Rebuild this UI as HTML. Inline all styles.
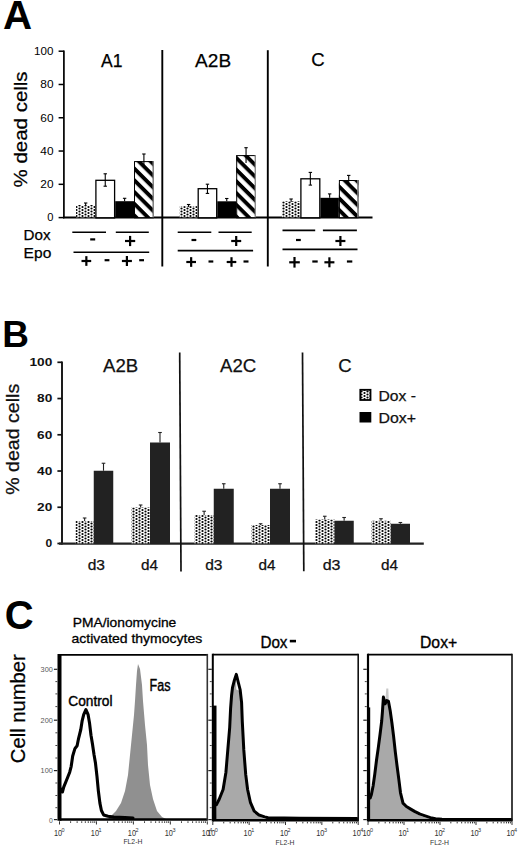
<!DOCTYPE html><html><head><meta charset="utf-8"><style>html,body{margin:0;padding:0;background:#fff;width:520px;height:849px;overflow:hidden}text{font-family:"Liberation Sans",sans-serif}</style></head><body><svg width="520" height="849" viewBox="0 0 520 849" style='display:block;font-family:"Liberation Sans", sans-serif'>
<defs>
<pattern id="dots" width="6" height="3" patternUnits="userSpaceOnUse">
<rect width="6" height="3" fill="#fff"/>
<circle cx="1.5" cy="1.5" r="1.1" fill="#000"/>
<circle cx="4.5" cy="0" r="1.1" fill="#000"/>
<circle cx="4.5" cy="3" r="1.1" fill="#000"/>
</pattern>
<pattern id="dotsB" width="6" height="3" patternUnits="userSpaceOnUse">
<rect width="6" height="3" fill="#fff"/>
<circle cx="1.5" cy="1.5" r="1.12" fill="#000"/>
<circle cx="4.5" cy="0" r="1.12" fill="#000"/>
<circle cx="4.5" cy="3" r="1.12" fill="#000"/>
</pattern>
<pattern id="hA1" width="8.3" height="8.3" patternUnits="userSpaceOnUse" patternTransform="rotate(45) translate(0,-2.62)">
<rect width="8.3" height="8.3" fill="#fff"/>
<rect x="0" y="0" width="8.3" height="3.9" fill="#000"/>
</pattern>
<pattern id="hA2B" width="8.3" height="8.3" patternUnits="userSpaceOnUse" patternTransform="rotate(45) translate(0,0.71)">
<rect width="8.3" height="8.3" fill="#fff"/>
<rect x="0" y="0" width="8.3" height="3.9" fill="#000"/>
</pattern>
<pattern id="hC" width="8.3" height="8.3" patternUnits="userSpaceOnUse" patternTransform="rotate(45) translate(0,-1.91)">
<rect width="8.3" height="8.3" fill="#fff"/>
<rect x="0" y="0" width="8.3" height="3.9" fill="#000"/>
</pattern>
</defs>
<rect width="520" height="849" fill="#fff"/>
<text x="3.0" y="29.3" font-size="40.3" font-weight="bold" text-anchor="start" fill="#000" >A</text>
<line x1="63.9" y1="50.6" x2="63.9" y2="218.3" stroke="#000" stroke-width="1.7"/>
<line x1="58.6" y1="51.2" x2="63.9" y2="51.2" stroke="#000" stroke-width="1.5"/>
<text x="53.5" y="55.0" font-size="10.5" font-weight="normal" text-anchor="end" fill="#000" textLength="19.4" lengthAdjust="spacingAndGlyphs" >100</text>
<line x1="58.6" y1="84.48" x2="63.9" y2="84.48" stroke="#000" stroke-width="1.5"/>
<text x="53.5" y="88.28" font-size="10.5" font-weight="normal" text-anchor="end" fill="#000" textLength="13.2" lengthAdjust="spacingAndGlyphs" >80</text>
<line x1="58.6" y1="117.76" x2="63.9" y2="117.76" stroke="#000" stroke-width="1.5"/>
<text x="53.5" y="121.56" font-size="10.5" font-weight="normal" text-anchor="end" fill="#000" textLength="13.2" lengthAdjust="spacingAndGlyphs" >60</text>
<line x1="58.6" y1="151.04000000000002" x2="63.9" y2="151.04000000000002" stroke="#000" stroke-width="1.5"/>
<text x="53.5" y="154.84000000000003" font-size="10.5" font-weight="normal" text-anchor="end" fill="#000" textLength="13.2" lengthAdjust="spacingAndGlyphs" >40</text>
<line x1="58.6" y1="184.32" x2="63.9" y2="184.32" stroke="#000" stroke-width="1.5"/>
<text x="53.5" y="188.12" font-size="10.5" font-weight="normal" text-anchor="end" fill="#000" textLength="13.2" lengthAdjust="spacingAndGlyphs" >20</text>
<line x1="58.6" y1="217.60000000000002" x2="63.9" y2="217.60000000000002" stroke="#000" stroke-width="1.5"/>
<text x="53.5" y="221.40000000000003" font-size="10.5" font-weight="normal" text-anchor="end" fill="#000" textLength="6.2" lengthAdjust="spacingAndGlyphs" >0</text>
<text transform="translate(27.3,129.4) rotate(-90)" font-size="19" text-anchor="middle" fill="#000" textLength="116" lengthAdjust="spacingAndGlyphs" stroke="#000" stroke-width="0.25">% dead cells</text>
<line x1="63" y1="217.5" x2="372.5" y2="217.5" stroke="#000" stroke-width="2"/>
<line x1="162.3" y1="50" x2="162.3" y2="266.5" stroke="#000" stroke-width="1.9"/>
<line x1="267.8" y1="50.2" x2="267.8" y2="266.5" stroke="#000" stroke-width="1.9"/>
<text x="111.8" y="66.6" font-size="18.5" font-weight="normal" text-anchor="middle" fill="#000" textLength="21.5" lengthAdjust="spacingAndGlyphs" stroke="#000" stroke-width="0.25">A1</text>
<text x="213.1" y="66.6" font-size="18.5" font-weight="normal" text-anchor="middle" fill="#000" textLength="36" lengthAdjust="spacingAndGlyphs" stroke="#000" stroke-width="0.25">A2B</text>
<text x="317.9" y="66.3" font-size="18.5" font-weight="normal" text-anchor="middle" fill="#000" stroke="#000" stroke-width="0.25">C</text>
<rect x="76" y="205" width="19.299999999999997" height="12.300000000000011" fill="url(#dots)"/>
<rect x="95.3" y="179.7" width="19.900000000000006" height="37.60000000000002" fill="#fff"/>
<rect x="95.89999999999999" y="180.29999999999998" width="18.700000000000006" height="37.60000000000002" fill="none" stroke="#000" stroke-width="1.3"/>
<rect x="115.2" y="201.2" width="18.799999999999997" height="16.100000000000023" fill="#000"/>
<rect x="134" y="161.1" width="19.80000000000001" height="56.20000000000002" fill="url(#hA1)"/>
<rect x="134.5" y="161.6" width="18.80000000000001" height="56.20000000000002" fill="none" stroke="#000" stroke-width="1"/>
<line x1="153.20000000000002" y1="161.1" x2="153.20000000000002" y2="217.3" stroke="#999" stroke-width="1.2"/>
<line x1="85.65" y1="203" x2="85.65" y2="206" stroke="#000" stroke-width="1.1"/>
<line x1="83.95" y1="203" x2="87.35000000000001" y2="203" stroke="#000" stroke-width="1.1"/>
<line x1="105.25" y1="173.8" x2="105.25" y2="186.2" stroke="#000" stroke-width="1.1"/>
<line x1="103.55" y1="173.8" x2="106.95" y2="173.8" stroke="#000" stroke-width="1.1"/>
<line x1="103.55" y1="186.2" x2="106.95" y2="186.2" stroke="#000" stroke-width="1.1"/>
<line x1="124.6" y1="198.3" x2="124.6" y2="201.2" stroke="#000" stroke-width="1.1"/>
<line x1="122.89999999999999" y1="198.3" x2="126.3" y2="198.3" stroke="#000" stroke-width="1.1"/>
<line x1="143.9" y1="154" x2="143.9" y2="166" stroke="#000" stroke-width="1.1"/>
<line x1="142.20000000000002" y1="154" x2="145.6" y2="154" stroke="#000" stroke-width="1.1"/>
<rect x="179.6" y="206.1" width="18.0" height="11.200000000000017" fill="url(#dots)"/>
<rect x="197.6" y="188.1" width="19.700000000000017" height="29.200000000000017" fill="#fff"/>
<rect x="198.2" y="188.7" width="18.500000000000018" height="29.200000000000017" fill="none" stroke="#000" stroke-width="1.3"/>
<rect x="217.3" y="201.3" width="18.899999999999977" height="16.0" fill="#000"/>
<rect x="236.2" y="155.1" width="19.700000000000017" height="62.20000000000002" fill="url(#hA2B)"/>
<rect x="236.7" y="155.6" width="18.700000000000017" height="62.20000000000002" fill="none" stroke="#000" stroke-width="1"/>
<line x1="255.3" y1="155.1" x2="255.3" y2="217.3" stroke="#999" stroke-width="1.2"/>
<line x1="188.6" y1="204.5" x2="188.6" y2="207" stroke="#000" stroke-width="1.1"/>
<line x1="186.9" y1="204.5" x2="190.29999999999998" y2="204.5" stroke="#000" stroke-width="1.1"/>
<line x1="207.45" y1="184.2" x2="207.45" y2="193.4" stroke="#000" stroke-width="1.1"/>
<line x1="205.75" y1="184.2" x2="209.14999999999998" y2="184.2" stroke="#000" stroke-width="1.1"/>
<line x1="205.75" y1="193.4" x2="209.14999999999998" y2="193.4" stroke="#000" stroke-width="1.1"/>
<line x1="226.75" y1="198.5" x2="226.75" y2="201.3" stroke="#000" stroke-width="1.1"/>
<line x1="225.05" y1="198.5" x2="228.45" y2="198.5" stroke="#000" stroke-width="1.1"/>
<line x1="246.05" y1="147.7" x2="246.05" y2="163" stroke="#000" stroke-width="1.1"/>
<line x1="244.35000000000002" y1="147.7" x2="247.75" y2="147.7" stroke="#000" stroke-width="1.1"/>
<rect x="281.9" y="201.3" width="18.400000000000034" height="16.0" fill="url(#dots)"/>
<rect x="300.3" y="178.2" width="20.099999999999966" height="39.10000000000002" fill="#fff"/>
<rect x="300.90000000000003" y="178.79999999999998" width="18.899999999999967" height="39.10000000000002" fill="none" stroke="#000" stroke-width="1.3"/>
<rect x="320.4" y="197.8" width="18.5" height="19.5" fill="#000"/>
<rect x="338.9" y="180" width="19.600000000000023" height="37.30000000000001" fill="url(#hC)"/>
<rect x="339.4" y="180.5" width="18.600000000000023" height="37.30000000000001" fill="none" stroke="#000" stroke-width="1"/>
<line x1="357.9" y1="180" x2="357.9" y2="217.3" stroke="#999" stroke-width="1.2"/>
<line x1="291.1" y1="199" x2="291.1" y2="202" stroke="#000" stroke-width="1.1"/>
<line x1="289.40000000000003" y1="199" x2="292.8" y2="199" stroke="#000" stroke-width="1.1"/>
<line x1="310.35" y1="172.4" x2="310.35" y2="185.1" stroke="#000" stroke-width="1.1"/>
<line x1="308.65000000000003" y1="172.4" x2="312.05" y2="172.4" stroke="#000" stroke-width="1.1"/>
<line x1="308.65000000000003" y1="185.1" x2="312.05" y2="185.1" stroke="#000" stroke-width="1.1"/>
<line x1="329.65" y1="193.9" x2="329.65" y2="197.8" stroke="#000" stroke-width="1.1"/>
<line x1="327.95" y1="193.9" x2="331.34999999999997" y2="193.9" stroke="#000" stroke-width="1.1"/>
<line x1="348.7" y1="175.4" x2="348.7" y2="185" stroke="#000" stroke-width="1.1"/>
<line x1="347.0" y1="175.4" x2="350.4" y2="175.4" stroke="#000" stroke-width="1.1"/>
<text x="23.6" y="240.3" font-size="15.2" font-weight="normal" text-anchor="start" fill="#000" textLength="27" lengthAdjust="spacingAndGlyphs" stroke="#000" stroke-width="0.25">Dox</text>
<text x="23.6" y="257.9" font-size="15.2" font-weight="normal" text-anchor="start" fill="#000" textLength="27.7" lengthAdjust="spacingAndGlyphs" stroke="#000" stroke-width="0.25">Epo</text>
<line x1="72.3" y1="232.3" x2="106" y2="232.3" stroke="#000" stroke-width="1.6"/>
<line x1="115.8" y1="232.3" x2="148.8" y2="232.3" stroke="#000" stroke-width="1.6"/>
<line x1="73.5" y1="252.3" x2="149.2" y2="252.3" stroke="#000" stroke-width="1.6"/>
<line x1="90.2" y1="239.4" x2="95.2" y2="239.4" stroke="#000" stroke-width="2.2"/>
<line x1="125" y1="241" x2="135.2" y2="241" stroke="#000" stroke-width="2.2"/>
<line x1="130.1" y1="235.9" x2="130.1" y2="246.1" stroke="#000" stroke-width="2.2"/>
<line x1="81.5" y1="261" x2="91.2" y2="261" stroke="#000" stroke-width="2.2"/>
<line x1="86.35" y1="256.15" x2="86.35" y2="265.85" stroke="#000" stroke-width="2.2"/>
<line x1="104.6" y1="260.2" x2="109.4" y2="260.2" stroke="#000" stroke-width="2.2"/>
<line x1="121.9" y1="261" x2="131.9" y2="261" stroke="#000" stroke-width="2.2"/>
<line x1="126.9" y1="256.0" x2="126.9" y2="266.0" stroke="#000" stroke-width="2.2"/>
<line x1="139.2" y1="260.2" x2="144" y2="260.2" stroke="#000" stroke-width="2.2"/>
<line x1="177.7" y1="232.3" x2="211.3" y2="232.3" stroke="#000" stroke-width="1.6"/>
<line x1="218.5" y1="232.3" x2="251.7" y2="232.3" stroke="#000" stroke-width="1.6"/>
<line x1="177.7" y1="250.6" x2="253.1" y2="250.6" stroke="#000" stroke-width="1.6"/>
<line x1="191.5" y1="240" x2="196.3" y2="240" stroke="#000" stroke-width="2.2"/>
<line x1="231.2" y1="241" x2="241.2" y2="241" stroke="#000" stroke-width="2.2"/>
<line x1="236.2" y1="236.0" x2="236.2" y2="246.0" stroke="#000" stroke-width="2.2"/>
<line x1="186.3" y1="262" x2="196" y2="262" stroke="#000" stroke-width="2.2"/>
<line x1="191.15" y1="257.15" x2="191.15" y2="266.85" stroke="#000" stroke-width="2.2"/>
<line x1="208.5" y1="261.5" x2="213.3" y2="261.5" stroke="#000" stroke-width="2.2"/>
<line x1="226.7" y1="262" x2="236.3" y2="262" stroke="#000" stroke-width="2.2"/>
<line x1="231.5" y1="257.2" x2="231.5" y2="266.8" stroke="#000" stroke-width="2.2"/>
<line x1="243.5" y1="261.5" x2="248.5" y2="261.5" stroke="#000" stroke-width="2.2"/>
<line x1="282.5" y1="230.4" x2="315.2" y2="230.4" stroke="#000" stroke-width="1.6"/>
<line x1="322.9" y1="230.4" x2="356.9" y2="230.4" stroke="#000" stroke-width="1.6"/>
<line x1="282.5" y1="249.4" x2="357.5" y2="249.4" stroke="#000" stroke-width="1.6"/>
<line x1="296" y1="240" x2="300.8" y2="240" stroke="#000" stroke-width="2.2"/>
<line x1="335.4" y1="241" x2="345.4" y2="241" stroke="#000" stroke-width="2.2"/>
<line x1="340.4" y1="236.0" x2="340.4" y2="246.0" stroke="#000" stroke-width="2.2"/>
<line x1="289.2" y1="262.3" x2="299.8" y2="262.3" stroke="#000" stroke-width="2.2"/>
<line x1="294.5" y1="257.0" x2="294.5" y2="267.6" stroke="#000" stroke-width="2.2"/>
<line x1="312.3" y1="261.5" x2="317.7" y2="261.5" stroke="#000" stroke-width="2.2"/>
<line x1="324.4" y1="262.3" x2="334.4" y2="262.3" stroke="#000" stroke-width="2.2"/>
<line x1="329.4" y1="257.3" x2="329.4" y2="267.3" stroke="#000" stroke-width="2.2"/>
<line x1="346.9" y1="261.5" x2="352.3" y2="261.5" stroke="#000" stroke-width="2.2"/>
<text x="2.3" y="347.3" font-size="37" font-weight="bold" text-anchor="start" fill="#000" >B</text>
<line x1="62" y1="361.5" x2="62" y2="544.5" stroke="#111" stroke-width="1.9"/>
<line x1="57.4" y1="362.3" x2="62" y2="362.3" stroke="#111" stroke-width="1.7"/>
<text x="52.3" y="366.2" font-size="10.8" font-weight="bold" text-anchor="end" fill="#111" textLength="22.8" lengthAdjust="spacingAndGlyphs" >100</text>
<line x1="57.4" y1="398.54" x2="62" y2="398.54" stroke="#111" stroke-width="1.7"/>
<text x="52.3" y="402.44" font-size="10.8" font-weight="bold" text-anchor="end" fill="#111" textLength="15.2" lengthAdjust="spacingAndGlyphs" >80</text>
<line x1="57.4" y1="434.78000000000003" x2="62" y2="434.78000000000003" stroke="#111" stroke-width="1.7"/>
<text x="52.3" y="438.68" font-size="10.8" font-weight="bold" text-anchor="end" fill="#111" textLength="15.2" lengthAdjust="spacingAndGlyphs" >60</text>
<line x1="57.4" y1="471.02" x2="62" y2="471.02" stroke="#111" stroke-width="1.7"/>
<text x="52.3" y="474.91999999999996" font-size="10.8" font-weight="bold" text-anchor="end" fill="#111" textLength="15.2" lengthAdjust="spacingAndGlyphs" >40</text>
<line x1="57.4" y1="507.26" x2="62" y2="507.26" stroke="#111" stroke-width="1.7"/>
<text x="52.3" y="511.15999999999997" font-size="10.8" font-weight="bold" text-anchor="end" fill="#111" textLength="15.2" lengthAdjust="spacingAndGlyphs" >20</text>
<line x1="57.4" y1="543.5" x2="62" y2="543.5" stroke="#111" stroke-width="1.7"/>
<text x="52.3" y="547.4" font-size="10.8" font-weight="bold" text-anchor="end" fill="#111" textLength="6.7" lengthAdjust="spacingAndGlyphs" >0</text>
<text transform="translate(18.6,439.3) rotate(-90)" font-size="18.8" text-anchor="middle" fill="#111" textLength="111" lengthAdjust="spacingAndGlyphs" stroke="#000" stroke-width="0.25">% dead cells</text>
<line x1="59" y1="543.6" x2="423.8" y2="543.6" stroke="#222" stroke-width="2.4"/>
<line x1="179.7" y1="352.4" x2="181" y2="571.5" stroke="#111" stroke-width="1.7"/>
<line x1="302.5" y1="352.4" x2="303.8" y2="571.3" stroke="#111" stroke-width="1.7"/>
<text x="120.6" y="372.2" font-size="18.5" font-weight="normal" text-anchor="middle" fill="#111" textLength="35.2" lengthAdjust="spacingAndGlyphs" stroke="#111" stroke-width="0.25">A2B</text>
<text x="238.1" y="372.4" font-size="18.5" font-weight="normal" text-anchor="middle" fill="#111" textLength="36.2" lengthAdjust="spacingAndGlyphs" stroke="#111" stroke-width="0.25">A2C</text>
<text x="345" y="372" font-size="18.5" font-weight="normal" text-anchor="middle" fill="#111" stroke="#111" stroke-width="0.25">C</text>
<rect x="75.5" y="521" width="18.25" height="22.399999999999977" fill="url(#dotsB)"/>
<line x1="84.625" y1="518" x2="84.625" y2="521" stroke="#222" stroke-width="1.1"/>
<line x1="82.825" y1="518" x2="86.425" y2="518" stroke="#222" stroke-width="1.1"/>
<rect x="93.75" y="470.75" width="19.5" height="72.64999999999998" fill="#222"/>
<line x1="103.5" y1="463.25" x2="103.5" y2="470.75" stroke="#222" stroke-width="1.1"/>
<line x1="101.7" y1="463.25" x2="105.3" y2="463.25" stroke="#222" stroke-width="1.1"/>
<rect x="131.25" y="507.5" width="18.75" height="35.89999999999998" fill="url(#dotsB)"/>
<line x1="140.625" y1="505" x2="140.625" y2="507.5" stroke="#222" stroke-width="1.1"/>
<line x1="138.825" y1="505" x2="142.425" y2="505" stroke="#222" stroke-width="1.1"/>
<rect x="150" y="442.5" width="20" height="100.89999999999998" fill="#222"/>
<line x1="160.0" y1="432.5" x2="160.0" y2="442.5" stroke="#222" stroke-width="1.1"/>
<line x1="158.2" y1="432.5" x2="161.8" y2="432.5" stroke="#222" stroke-width="1.1"/>
<rect x="194.5" y="515" width="19.25" height="28.399999999999977" fill="url(#dotsB)"/>
<line x1="204.125" y1="511.25" x2="204.125" y2="515" stroke="#222" stroke-width="1.1"/>
<line x1="202.325" y1="511.25" x2="205.925" y2="511.25" stroke="#222" stroke-width="1.1"/>
<rect x="213.75" y="488.75" width="20.0" height="54.64999999999998" fill="#222"/>
<line x1="223.75" y1="483.75" x2="223.75" y2="488.75" stroke="#222" stroke-width="1.1"/>
<line x1="221.95" y1="483.75" x2="225.55" y2="483.75" stroke="#222" stroke-width="1.1"/>
<rect x="251.25" y="525" width="18.75" height="18.399999999999977" fill="url(#dotsB)"/>
<line x1="260.625" y1="523.75" x2="260.625" y2="525" stroke="#222" stroke-width="1.1"/>
<line x1="258.825" y1="523.75" x2="262.425" y2="523.75" stroke="#222" stroke-width="1.1"/>
<rect x="270" y="488.75" width="20" height="54.64999999999998" fill="#222"/>
<line x1="280.0" y1="483.75" x2="280.0" y2="488.75" stroke="#222" stroke-width="1.1"/>
<line x1="278.2" y1="483.75" x2="281.8" y2="483.75" stroke="#222" stroke-width="1.1"/>
<rect x="315" y="519.5" width="19.5" height="23.899999999999977" fill="url(#dotsB)"/>
<line x1="324.75" y1="516.25" x2="324.75" y2="519.5" stroke="#222" stroke-width="1.1"/>
<line x1="322.95" y1="516.25" x2="326.55" y2="516.25" stroke="#222" stroke-width="1.1"/>
<rect x="334.5" y="520.75" width="19.25" height="22.649999999999977" fill="#222"/>
<line x1="344.125" y1="517.5" x2="344.125" y2="520.75" stroke="#222" stroke-width="1.1"/>
<line x1="342.325" y1="517.5" x2="345.925" y2="517.5" stroke="#222" stroke-width="1.1"/>
<rect x="371.25" y="520.75" width="19.5" height="22.649999999999977" fill="url(#dotsB)"/>
<line x1="381.0" y1="518.75" x2="381.0" y2="520.75" stroke="#222" stroke-width="1.1"/>
<line x1="379.2" y1="518.75" x2="382.8" y2="518.75" stroke="#222" stroke-width="1.1"/>
<rect x="390.75" y="523.75" width="19.25" height="19.649999999999977" fill="#222"/>
<line x1="400.375" y1="522.5" x2="400.375" y2="523.75" stroke="#222" stroke-width="1.1"/>
<line x1="398.575" y1="522.5" x2="402.175" y2="522.5" stroke="#222" stroke-width="1.1"/>
<text x="87.7" y="570.2" font-size="15" font-weight="normal" text-anchor="start" fill="#111" textLength="17.3" lengthAdjust="spacingAndGlyphs" stroke="#111" stroke-width="0.25">d3</text>
<text x="140.95" y="570.2" font-size="15" font-weight="normal" text-anchor="start" fill="#111" textLength="17.05" lengthAdjust="spacingAndGlyphs" stroke="#111" stroke-width="0.25">d4</text>
<text x="205.2" y="570.2" font-size="15" font-weight="normal" text-anchor="start" fill="#111" textLength="17.3" lengthAdjust="spacingAndGlyphs" stroke="#111" stroke-width="0.25">d3</text>
<text x="258.45" y="570.2" font-size="15" font-weight="normal" text-anchor="start" fill="#111" textLength="17.05" lengthAdjust="spacingAndGlyphs" stroke="#111" stroke-width="0.25">d4</text>
<text x="322.7" y="570.2" font-size="15" font-weight="normal" text-anchor="start" fill="#111" textLength="17.8" lengthAdjust="spacingAndGlyphs" stroke="#111" stroke-width="0.25">d3</text>
<text x="380.95" y="570.2" font-size="15" font-weight="normal" text-anchor="start" fill="#111" textLength="17.05" lengthAdjust="spacingAndGlyphs" stroke="#111" stroke-width="0.25">d4</text>
<rect x="360.3" y="389.8" width="10.2" height="10.2" fill="url(#dotsB)" stroke="#000" stroke-width="1.8"/>
<rect x="359.5" y="412" width="11.8" height="10.5" fill="#000"/>
<text x="378.5" y="400.7" font-size="14.5" font-weight="normal" text-anchor="start" fill="#111" textLength="37.5" lengthAdjust="spacingAndGlyphs" stroke="#111" stroke-width="0.25">Dox -</text>
<text x="378.5" y="423.3" font-size="14.5" font-weight="normal" text-anchor="start" fill="#111" textLength="37.5" lengthAdjust="spacingAndGlyphs" stroke="#111" stroke-width="0.25">Dox+</text>
<text x="4.8" y="629.3" font-size="40" font-weight="bold" text-anchor="start" fill="#000" >C</text>
<text x="72.8" y="626.5" font-size="13.2" font-weight="normal" text-anchor="start" fill="#000" textLength="103.5" lengthAdjust="spacingAndGlyphs" stroke="#000" stroke-width="0.3">PMA/ionomycine</text>
<text x="71.6" y="643.3" font-size="13.2" font-weight="normal" text-anchor="start" fill="#000" textLength="130.6" lengthAdjust="spacingAndGlyphs" stroke="#000" stroke-width="0.3">activated thymocytes</text>
<text x="260.4" y="648.0" font-size="16" font-weight="normal" text-anchor="start" fill="#000" textLength="27.1" lengthAdjust="spacingAndGlyphs" stroke="#000" stroke-width="0.35">Dox</text>
<line x1="289.8" y1="641.1" x2="296" y2="641.1" stroke="#000" stroke-width="2.6"/>
<text x="420" y="648.0" font-size="16" font-weight="normal" text-anchor="start" fill="#000" textLength="37.2" lengthAdjust="spacingAndGlyphs" stroke="#000" stroke-width="0.35">Dox+</text>
<text transform="translate(25.3,708.7) rotate(-90)" font-size="19.5" text-anchor="middle" fill="#000" textLength="109" lengthAdjust="spacingAndGlyphs" stroke="#000" stroke-width="0.25">Cell number</text>
<polygon points="108,819 112,815 116,811 121,803 125,791 128,775 130,755 132,735 134,715 135,701 136,685 137,671 138,664 140,669 142,685 143,701 145,725 147,745 148,765 150,785 153,799 157,811 162,817 166,819" fill="#909090" stroke="none" stroke-width="0" />
<polyline points="61,789 62.4,792 63.8,786.9 66.8,779.5 69.7,772.2 71.2,766.3 72.7,756 74.9,748.6 77.1,745.7 78.6,738.3 80.8,729.5 82.2,720.6 83.7,714.7 85.9,709.6 88.1,714.7 89.6,723.6 91,735.3 92.5,744.2 94,754.5 95.5,763.3 97,776.6 98.4,791.3 99.9,803.1 101.4,810.5 103.6,814.9 108,816.3 113.9,817.1 125,817.5 133,818" fill="none" stroke="#000" stroke-width="3.1" stroke-linejoin="round" stroke-linecap="round" />
<polygon points="216.5,819 216.8,806.1 219.60000000000002,800.5 223.4,791.0 226.20000000000002,774.0 228.10000000000002,751.4 230.0,728.8 230.9,709.9 231.9,696.7 232.8,689.1 234.70000000000002,681.6 236.0,675.9 236.3,689.5 239.79999999999998,691.0 241.29999999999998,704.2 242.0,723.1 243.5,751.4 245.39999999999998,775.9 247.29999999999998,791.0 250.2,804.2 253.89999999999998,812.7 258.59999999999997,816.5 264.3,818.4 268,819" fill="#a9a9a9" stroke="none" stroke-width="0" />
<polyline points="216.5,804.6 219.3,799 223.1,789.5 225.9,772.5 227.8,749.9 229.7,727.3 230.6,708.4 231.6,695.2 232.5,687.6 234.4,680.1 236.3,674.4 238.2,682 240.1,689.5 241.6,702.7 242.3,721.6 243.8,749.9 245.7,774.4 247.6,789.5 250.5,802.7 254.2,811.2 258.9,815 264.6,816.9 268,817.8 300,818.2 357,818.4" fill="none" stroke="#000" stroke-width="3.0" stroke-linejoin="round" stroke-linecap="round" />
<rect x="212.5" y="705.6" width="4" height="114" fill="#000"/>
<polygon points="370.2,820 370.2,799.5 371.4,796.0 373.1,787.5 374.8,775.5 376.5,761.8 378.2,749.9 380,736.2 381.7,722.5 382.5,712.3 383.4,698.6 385.1,705.4 386.8,702.0 388.5,702.9 390.2,712.3 391.9,724.2 393.6,737.9 395.3,753.3 397,767.0 398.8,780.6 400.5,794.3 403,804.6 406.4,808.0 410.7,810.6 415,813.1 420.1,815.7 425.2,817.4 430.4,819.1 435.5,820 442,820 442,820" fill="#a9a9a9" stroke="none" stroke-width="0" />
<polygon points="385.4,700 386.3,688.5 388.3,688.5 388.8,701" fill="#c8c8c8"/>
<polyline points="370.2,798 371.4,794.5 373.1,786 374.8,774 376.5,760.3 378.2,748.4 380,734.7 381.7,721 382.5,710.8 383.4,697.1 385.1,703.9 386.8,700.5 388.5,701.4 390.2,710.8 391.9,722.7 393.6,736.4 395.3,751.8 397,765.5 398.8,779.1 400.5,792.8 403,803.1 406.4,806.5 410.7,809.1 415,811.6 420.1,814.2 425.2,815.9 430.4,817.6 435.5,818.8 442,819.3 511,819.4" fill="none" stroke="#000" stroke-width="3.0" stroke-linejoin="round" stroke-linecap="round" />
<rect x="367.1" y="707.4" width="3.1" height="113" fill="#000"/>
<line x1="59.5" y1="654.8" x2="207.3" y2="654.8" stroke="#000" stroke-width="1.8"/>
<line x1="59.5" y1="819.5" x2="207.3" y2="819.5" stroke="#000" stroke-width="2.5"/>
<line x1="59.5" y1="653.9" x2="59.5" y2="820.75" stroke="#000" stroke-width="4"/>
<line x1="207.3" y1="653.9" x2="207.3" y2="820.75" stroke="#333" stroke-width="1.6"/>
<line x1="212.8" y1="654.6" x2="358.2" y2="654.6" stroke="#000" stroke-width="1.8"/>
<line x1="212.8" y1="820.3" x2="358.2" y2="820.3" stroke="#000" stroke-width="2.5"/>
<line x1="212.8" y1="653.7" x2="212.8" y2="821.55" stroke="#000" stroke-width="2"/>
<line x1="358.2" y1="653.7" x2="358.2" y2="821.55" stroke="#111" stroke-width="1.6"/>
<line x1="368.0" y1="654.6" x2="512.0" y2="654.6" stroke="#000" stroke-width="1.8"/>
<line x1="368.0" y1="820.3" x2="512.0" y2="820.3" stroke="#000" stroke-width="2.5"/>
<line x1="368.0" y1="653.7" x2="368.0" y2="821.55" stroke="#000" stroke-width="2.2"/>
<line x1="512.0" y1="653.7" x2="512.0" y2="821.55" stroke="#111" stroke-width="1.6"/>
<line x1="53.9" y1="669.3" x2="57.4" y2="669.3" stroke="#222" stroke-width="1.2"/>
<line x1="53.9" y1="720.2" x2="57.4" y2="720.2" stroke="#222" stroke-width="1.2"/>
<line x1="53.9" y1="770.6" x2="57.4" y2="770.6" stroke="#222" stroke-width="1.2"/>
<line x1="53.9" y1="819.6" x2="57.4" y2="819.6" stroke="#222" stroke-width="1.2"/>
<line x1="55.4" y1="681.6" x2="57.4" y2="681.6" stroke="#444" stroke-width="1"/>
<line x1="55.4" y1="693.9" x2="57.4" y2="693.9" stroke="#444" stroke-width="1"/>
<line x1="55.4" y1="706.6" x2="57.4" y2="706.6" stroke="#444" stroke-width="1"/>
<line x1="55.4" y1="732.8" x2="57.4" y2="732.8" stroke="#444" stroke-width="1"/>
<line x1="55.4" y1="745.5" x2="57.4" y2="745.5" stroke="#444" stroke-width="1"/>
<line x1="55.4" y1="758" x2="57.4" y2="758" stroke="#444" stroke-width="1"/>
<line x1="55.4" y1="783" x2="57.4" y2="783" stroke="#444" stroke-width="1"/>
<line x1="55.4" y1="795.5" x2="57.4" y2="795.5" stroke="#444" stroke-width="1"/>
<line x1="55.4" y1="807.7" x2="57.4" y2="807.7" stroke="#444" stroke-width="1"/>
<line x1="208.3" y1="669.3" x2="211.8" y2="669.3" stroke="#222" stroke-width="1.2"/>
<line x1="208.3" y1="720.2" x2="211.8" y2="720.2" stroke="#222" stroke-width="1.2"/>
<line x1="208.3" y1="770.6" x2="211.8" y2="770.6" stroke="#222" stroke-width="1.2"/>
<line x1="208.3" y1="819.6" x2="211.8" y2="819.6" stroke="#222" stroke-width="1.2"/>
<line x1="209.8" y1="681.6" x2="211.8" y2="681.6" stroke="#444" stroke-width="1"/>
<line x1="209.8" y1="693.9" x2="211.8" y2="693.9" stroke="#444" stroke-width="1"/>
<line x1="209.8" y1="706.6" x2="211.8" y2="706.6" stroke="#444" stroke-width="1"/>
<line x1="209.8" y1="732.8" x2="211.8" y2="732.8" stroke="#444" stroke-width="1"/>
<line x1="209.8" y1="745.5" x2="211.8" y2="745.5" stroke="#444" stroke-width="1"/>
<line x1="209.8" y1="758" x2="211.8" y2="758" stroke="#444" stroke-width="1"/>
<line x1="209.8" y1="783" x2="211.8" y2="783" stroke="#444" stroke-width="1"/>
<line x1="209.8" y1="795.5" x2="211.8" y2="795.5" stroke="#444" stroke-width="1"/>
<line x1="209.8" y1="807.7" x2="211.8" y2="807.7" stroke="#444" stroke-width="1"/>
<line x1="363.3" y1="669.3" x2="366.8" y2="669.3" stroke="#222" stroke-width="1.2"/>
<line x1="363.3" y1="720.2" x2="366.8" y2="720.2" stroke="#222" stroke-width="1.2"/>
<line x1="363.3" y1="770.6" x2="366.8" y2="770.6" stroke="#222" stroke-width="1.2"/>
<line x1="363.3" y1="819.6" x2="366.8" y2="819.6" stroke="#222" stroke-width="1.2"/>
<line x1="364.8" y1="681.6" x2="366.8" y2="681.6" stroke="#444" stroke-width="1"/>
<line x1="364.8" y1="693.9" x2="366.8" y2="693.9" stroke="#444" stroke-width="1"/>
<line x1="364.8" y1="706.6" x2="366.8" y2="706.6" stroke="#444" stroke-width="1"/>
<line x1="364.8" y1="732.8" x2="366.8" y2="732.8" stroke="#444" stroke-width="1"/>
<line x1="364.8" y1="745.5" x2="366.8" y2="745.5" stroke="#444" stroke-width="1"/>
<line x1="364.8" y1="758" x2="366.8" y2="758" stroke="#444" stroke-width="1"/>
<line x1="364.8" y1="783" x2="366.8" y2="783" stroke="#444" stroke-width="1"/>
<line x1="364.8" y1="795.5" x2="366.8" y2="795.5" stroke="#444" stroke-width="1"/>
<line x1="364.8" y1="807.7" x2="366.8" y2="807.7" stroke="#444" stroke-width="1"/>
<text x="52.8" y="672.0" font-size="7.2" font-weight="normal" text-anchor="end" fill="#555" textLength="12.2" lengthAdjust="spacingAndGlyphs" >300</text>
<text x="52.8" y="723.0" font-size="7.2" font-weight="normal" text-anchor="end" fill="#555" textLength="12.2" lengthAdjust="spacingAndGlyphs" >200</text>
<text x="52.8" y="773.3000000000001" font-size="7.2" font-weight="normal" text-anchor="end" fill="#555" textLength="12.2" lengthAdjust="spacingAndGlyphs" >100</text>
<text x="52.8" y="822.5" font-size="7.2" font-weight="normal" text-anchor="end" fill="#555" textLength="3.8" lengthAdjust="spacingAndGlyphs" >0</text>
<line x1="59.5" y1="821.3" x2="59.5" y2="824.5" stroke="#333" stroke-width="1"/>
<line x1="70.62305833978411" y1="821.3" x2="70.62305833978411" y2="822.9" stroke="#333" stroke-width="1"/>
<line x1="77.12963036189153" y1="821.3" x2="77.12963036189153" y2="822.9" stroke="#333" stroke-width="1"/>
<line x1="81.74611667956822" y1="821.3" x2="81.74611667956822" y2="822.9" stroke="#333" stroke-width="1"/>
<line x1="85.3269416602159" y1="821.3" x2="85.3269416602159" y2="822.9" stroke="#333" stroke-width="1"/>
<line x1="88.25268870167564" y1="821.3" x2="88.25268870167564" y2="822.9" stroke="#333" stroke-width="1"/>
<line x1="90.72637257852679" y1="821.3" x2="90.72637257852679" y2="822.9" stroke="#333" stroke-width="1"/>
<line x1="92.86917501935233" y1="821.3" x2="92.86917501935233" y2="822.9" stroke="#333" stroke-width="1"/>
<line x1="94.75926072378306" y1="821.3" x2="94.75926072378306" y2="822.9" stroke="#333" stroke-width="1"/>
<line x1="96.45" y1="821.3" x2="96.45" y2="824.5" stroke="#333" stroke-width="1"/>
<line x1="107.57305833978411" y1="821.3" x2="107.57305833978411" y2="822.9" stroke="#333" stroke-width="1"/>
<line x1="114.07963036189153" y1="821.3" x2="114.07963036189153" y2="822.9" stroke="#333" stroke-width="1"/>
<line x1="118.69611667956822" y1="821.3" x2="118.69611667956822" y2="822.9" stroke="#333" stroke-width="1"/>
<line x1="122.2769416602159" y1="821.3" x2="122.2769416602159" y2="822.9" stroke="#333" stroke-width="1"/>
<line x1="125.20268870167564" y1="821.3" x2="125.20268870167564" y2="822.9" stroke="#333" stroke-width="1"/>
<line x1="127.6763725785268" y1="821.3" x2="127.6763725785268" y2="822.9" stroke="#333" stroke-width="1"/>
<line x1="129.81917501935231" y1="821.3" x2="129.81917501935231" y2="822.9" stroke="#333" stroke-width="1"/>
<line x1="131.70926072378307" y1="821.3" x2="131.70926072378307" y2="822.9" stroke="#333" stroke-width="1"/>
<line x1="133.4" y1="821.3" x2="133.4" y2="824.5" stroke="#333" stroke-width="1"/>
<line x1="144.52305833978411" y1="821.3" x2="144.52305833978411" y2="822.9" stroke="#333" stroke-width="1"/>
<line x1="151.02963036189152" y1="821.3" x2="151.02963036189152" y2="822.9" stroke="#333" stroke-width="1"/>
<line x1="155.64611667956822" y1="821.3" x2="155.64611667956822" y2="822.9" stroke="#333" stroke-width="1"/>
<line x1="159.2269416602159" y1="821.3" x2="159.2269416602159" y2="822.9" stroke="#333" stroke-width="1"/>
<line x1="162.15268870167563" y1="821.3" x2="162.15268870167563" y2="822.9" stroke="#333" stroke-width="1"/>
<line x1="164.6263725785268" y1="821.3" x2="164.6263725785268" y2="822.9" stroke="#333" stroke-width="1"/>
<line x1="166.76917501935233" y1="821.3" x2="166.76917501935233" y2="822.9" stroke="#333" stroke-width="1"/>
<line x1="168.65926072378306" y1="821.3" x2="168.65926072378306" y2="822.9" stroke="#333" stroke-width="1"/>
<line x1="170.35000000000002" y1="821.3" x2="170.35000000000002" y2="824.5" stroke="#333" stroke-width="1"/>
<line x1="181.47305833978413" y1="821.3" x2="181.47305833978413" y2="822.9" stroke="#333" stroke-width="1"/>
<line x1="187.97963036189157" y1="821.3" x2="187.97963036189157" y2="822.9" stroke="#333" stroke-width="1"/>
<line x1="192.59611667956824" y1="821.3" x2="192.59611667956824" y2="822.9" stroke="#333" stroke-width="1"/>
<line x1="196.17694166021593" y1="821.3" x2="196.17694166021593" y2="822.9" stroke="#333" stroke-width="1"/>
<line x1="199.10268870167565" y1="821.3" x2="199.10268870167565" y2="822.9" stroke="#333" stroke-width="1"/>
<line x1="201.57637257852682" y1="821.3" x2="201.57637257852682" y2="822.9" stroke="#333" stroke-width="1"/>
<line x1="203.71917501935235" y1="821.3" x2="203.71917501935235" y2="822.9" stroke="#333" stroke-width="1"/>
<line x1="205.60926072378308" y1="821.3" x2="205.60926072378308" y2="822.9" stroke="#333" stroke-width="1"/>
<line x1="207.3" y1="821.3" x2="207.3" y2="824.5" stroke="#333" stroke-width="1"/>
<text x="58.0" y="835.5999999999999" font-size="8.6" font-weight="normal" text-anchor="middle" fill="#333" textLength="8.2" lengthAdjust="spacingAndGlyphs" >10</text>
<text x="63.1" y="831.9" font-size="5.5" font-weight="normal" text-anchor="middle" fill="#333" >0</text>
<text x="94.95" y="835.5999999999999" font-size="8.6" font-weight="normal" text-anchor="middle" fill="#333" textLength="8.2" lengthAdjust="spacingAndGlyphs" >10</text>
<text x="100.05" y="831.9" font-size="5.5" font-weight="normal" text-anchor="middle" fill="#333" >1</text>
<text x="131.9" y="835.5999999999999" font-size="8.6" font-weight="normal" text-anchor="middle" fill="#333" textLength="8.2" lengthAdjust="spacingAndGlyphs" >10</text>
<text x="137.0" y="831.9" font-size="5.5" font-weight="normal" text-anchor="middle" fill="#333" >2</text>
<text x="168.85000000000002" y="835.5999999999999" font-size="8.6" font-weight="normal" text-anchor="middle" fill="#333" textLength="8.2" lengthAdjust="spacingAndGlyphs" >10</text>
<text x="173.95000000000002" y="831.9" font-size="5.5" font-weight="normal" text-anchor="middle" fill="#333" >3</text>
<text x="205.8" y="835.5999999999999" font-size="8.6" font-weight="normal" text-anchor="middle" fill="#333" textLength="8.2" lengthAdjust="spacingAndGlyphs" >10</text>
<text x="210.9" y="831.9" font-size="5.5" font-weight="normal" text-anchor="middle" fill="#333" >4</text>
<text x="132.9" y="844.0999999999999" font-size="7.6" font-weight="normal" text-anchor="middle" fill="#333" textLength="19" lengthAdjust="spacingAndGlyphs" >FL2-H</text>
<line x1="212.8" y1="821.8" x2="212.8" y2="825.0" stroke="#333" stroke-width="1"/>
<line x1="223.74244034238572" y1="821.8" x2="223.74244034238572" y2="823.4" stroke="#333" stroke-width="1"/>
<line x1="230.14335760905973" y1="821.8" x2="230.14335760905973" y2="823.4" stroke="#333" stroke-width="1"/>
<line x1="234.68488068477143" y1="821.8" x2="234.68488068477143" y2="823.4" stroke="#333" stroke-width="1"/>
<line x1="238.2075596576143" y1="821.8" x2="238.2075596576143" y2="823.4" stroke="#333" stroke-width="1"/>
<line x1="241.08579795144544" y1="821.8" x2="241.08579795144544" y2="823.4" stroke="#333" stroke-width="1"/>
<line x1="243.51931375451824" y1="821.8" x2="243.51931375451824" y2="823.4" stroke="#333" stroke-width="1"/>
<line x1="245.62732102715717" y1="821.8" x2="245.62732102715717" y2="823.4" stroke="#333" stroke-width="1"/>
<line x1="247.48671521811946" y1="821.8" x2="247.48671521811946" y2="823.4" stroke="#333" stroke-width="1"/>
<line x1="249.15" y1="821.8" x2="249.15" y2="825.0" stroke="#333" stroke-width="1"/>
<line x1="260.0924403423857" y1="821.8" x2="260.0924403423857" y2="823.4" stroke="#333" stroke-width="1"/>
<line x1="266.49335760905973" y1="821.8" x2="266.49335760905973" y2="823.4" stroke="#333" stroke-width="1"/>
<line x1="271.03488068477145" y1="821.8" x2="271.03488068477145" y2="823.4" stroke="#333" stroke-width="1"/>
<line x1="274.55755965761426" y1="821.8" x2="274.55755965761426" y2="823.4" stroke="#333" stroke-width="1"/>
<line x1="277.43579795144547" y1="821.8" x2="277.43579795144547" y2="823.4" stroke="#333" stroke-width="1"/>
<line x1="279.86931375451826" y1="821.8" x2="279.86931375451826" y2="823.4" stroke="#333" stroke-width="1"/>
<line x1="281.97732102715713" y1="821.8" x2="281.97732102715713" y2="823.4" stroke="#333" stroke-width="1"/>
<line x1="283.8367152181195" y1="821.8" x2="283.8367152181195" y2="823.4" stroke="#333" stroke-width="1"/>
<line x1="285.5" y1="821.8" x2="285.5" y2="825.0" stroke="#333" stroke-width="1"/>
<line x1="296.44244034238574" y1="821.8" x2="296.44244034238574" y2="823.4" stroke="#333" stroke-width="1"/>
<line x1="302.84335760905975" y1="821.8" x2="302.84335760905975" y2="823.4" stroke="#333" stroke-width="1"/>
<line x1="307.3848806847714" y1="821.8" x2="307.3848806847714" y2="823.4" stroke="#333" stroke-width="1"/>
<line x1="310.9075596576143" y1="821.8" x2="310.9075596576143" y2="823.4" stroke="#333" stroke-width="1"/>
<line x1="313.78579795144543" y1="821.8" x2="313.78579795144543" y2="823.4" stroke="#333" stroke-width="1"/>
<line x1="316.2193137545182" y1="821.8" x2="316.2193137545182" y2="823.4" stroke="#333" stroke-width="1"/>
<line x1="318.32732102715715" y1="821.8" x2="318.32732102715715" y2="823.4" stroke="#333" stroke-width="1"/>
<line x1="320.18671521811945" y1="821.8" x2="320.18671521811945" y2="823.4" stroke="#333" stroke-width="1"/>
<line x1="321.85" y1="821.8" x2="321.85" y2="825.0" stroke="#333" stroke-width="1"/>
<line x1="332.79244034238576" y1="821.8" x2="332.79244034238576" y2="823.4" stroke="#333" stroke-width="1"/>
<line x1="339.1933576090598" y1="821.8" x2="339.1933576090598" y2="823.4" stroke="#333" stroke-width="1"/>
<line x1="343.73488068477144" y1="821.8" x2="343.73488068477144" y2="823.4" stroke="#333" stroke-width="1"/>
<line x1="347.2575596576143" y1="821.8" x2="347.2575596576143" y2="823.4" stroke="#333" stroke-width="1"/>
<line x1="350.13579795144545" y1="821.8" x2="350.13579795144545" y2="823.4" stroke="#333" stroke-width="1"/>
<line x1="352.56931375451825" y1="821.8" x2="352.56931375451825" y2="823.4" stroke="#333" stroke-width="1"/>
<line x1="354.6773210271572" y1="821.8" x2="354.6773210271572" y2="823.4" stroke="#333" stroke-width="1"/>
<line x1="356.53671521811947" y1="821.8" x2="356.53671521811947" y2="823.4" stroke="#333" stroke-width="1"/>
<line x1="358.2" y1="821.8" x2="358.2" y2="825.0" stroke="#333" stroke-width="1"/>
<text x="211.3" y="836.0999999999999" font-size="8.6" font-weight="normal" text-anchor="middle" fill="#333" textLength="8.2" lengthAdjust="spacingAndGlyphs" >10</text>
<text x="216.4" y="832.4" font-size="5.5" font-weight="normal" text-anchor="middle" fill="#333" >0</text>
<text x="247.65" y="836.0999999999999" font-size="8.6" font-weight="normal" text-anchor="middle" fill="#333" textLength="8.2" lengthAdjust="spacingAndGlyphs" >10</text>
<text x="252.75" y="832.4" font-size="5.5" font-weight="normal" text-anchor="middle" fill="#333" >1</text>
<text x="284.0" y="836.0999999999999" font-size="8.6" font-weight="normal" text-anchor="middle" fill="#333" textLength="8.2" lengthAdjust="spacingAndGlyphs" >10</text>
<text x="289.1" y="832.4" font-size="5.5" font-weight="normal" text-anchor="middle" fill="#333" >2</text>
<text x="320.35" y="836.0999999999999" font-size="8.6" font-weight="normal" text-anchor="middle" fill="#333" textLength="8.2" lengthAdjust="spacingAndGlyphs" >10</text>
<text x="325.45000000000005" y="832.4" font-size="5.5" font-weight="normal" text-anchor="middle" fill="#333" >3</text>
<text x="356.7" y="836.0999999999999" font-size="8.6" font-weight="normal" text-anchor="middle" fill="#333" textLength="8.2" lengthAdjust="spacingAndGlyphs" >10</text>
<text x="361.8" y="832.4" font-size="5.5" font-weight="normal" text-anchor="middle" fill="#333" >4</text>
<text x="285.0" y="844.5999999999999" font-size="7.6" font-weight="normal" text-anchor="middle" fill="#333" textLength="19" lengthAdjust="spacingAndGlyphs" >FL2-H</text>
<line x1="368.0" y1="821.8" x2="368.0" y2="825.0" stroke="#333" stroke-width="1"/>
<line x1="378.8370798439033" y1="821.8" x2="378.8370798439033" y2="823.4" stroke="#333" stroke-width="1"/>
<line x1="385.17636516990785" y1="821.8" x2="385.17636516990785" y2="823.4" stroke="#333" stroke-width="1"/>
<line x1="389.67415968780665" y1="821.8" x2="389.67415968780665" y2="823.4" stroke="#333" stroke-width="1"/>
<line x1="393.1629201560967" y1="821.8" x2="393.1629201560967" y2="823.4" stroke="#333" stroke-width="1"/>
<line x1="396.0134450138112" y1="821.8" x2="396.0134450138112" y2="823.4" stroke="#333" stroke-width="1"/>
<line x1="398.4235294405132" y1="821.8" x2="398.4235294405132" y2="823.4" stroke="#333" stroke-width="1"/>
<line x1="400.51123953171" y1="821.8" x2="400.51123953171" y2="823.4" stroke="#333" stroke-width="1"/>
<line x1="402.3527303398157" y1="821.8" x2="402.3527303398157" y2="823.4" stroke="#333" stroke-width="1"/>
<line x1="404.0" y1="821.8" x2="404.0" y2="825.0" stroke="#333" stroke-width="1"/>
<line x1="414.8370798439033" y1="821.8" x2="414.8370798439033" y2="823.4" stroke="#333" stroke-width="1"/>
<line x1="421.17636516990785" y1="821.8" x2="421.17636516990785" y2="823.4" stroke="#333" stroke-width="1"/>
<line x1="425.67415968780665" y1="821.8" x2="425.67415968780665" y2="823.4" stroke="#333" stroke-width="1"/>
<line x1="429.1629201560967" y1="821.8" x2="429.1629201560967" y2="823.4" stroke="#333" stroke-width="1"/>
<line x1="432.0134450138112" y1="821.8" x2="432.0134450138112" y2="823.4" stroke="#333" stroke-width="1"/>
<line x1="434.4235294405132" y1="821.8" x2="434.4235294405132" y2="823.4" stroke="#333" stroke-width="1"/>
<line x1="436.51123953171" y1="821.8" x2="436.51123953171" y2="823.4" stroke="#333" stroke-width="1"/>
<line x1="438.3527303398157" y1="821.8" x2="438.3527303398157" y2="823.4" stroke="#333" stroke-width="1"/>
<line x1="440.0" y1="821.8" x2="440.0" y2="825.0" stroke="#333" stroke-width="1"/>
<line x1="450.8370798439033" y1="821.8" x2="450.8370798439033" y2="823.4" stroke="#333" stroke-width="1"/>
<line x1="457.17636516990785" y1="821.8" x2="457.17636516990785" y2="823.4" stroke="#333" stroke-width="1"/>
<line x1="461.67415968780665" y1="821.8" x2="461.67415968780665" y2="823.4" stroke="#333" stroke-width="1"/>
<line x1="465.1629201560967" y1="821.8" x2="465.1629201560967" y2="823.4" stroke="#333" stroke-width="1"/>
<line x1="468.0134450138112" y1="821.8" x2="468.0134450138112" y2="823.4" stroke="#333" stroke-width="1"/>
<line x1="470.4235294405132" y1="821.8" x2="470.4235294405132" y2="823.4" stroke="#333" stroke-width="1"/>
<line x1="472.51123953171" y1="821.8" x2="472.51123953171" y2="823.4" stroke="#333" stroke-width="1"/>
<line x1="474.3527303398157" y1="821.8" x2="474.3527303398157" y2="823.4" stroke="#333" stroke-width="1"/>
<line x1="476.0" y1="821.8" x2="476.0" y2="825.0" stroke="#333" stroke-width="1"/>
<line x1="486.8370798439033" y1="821.8" x2="486.8370798439033" y2="823.4" stroke="#333" stroke-width="1"/>
<line x1="493.17636516990785" y1="821.8" x2="493.17636516990785" y2="823.4" stroke="#333" stroke-width="1"/>
<line x1="497.67415968780665" y1="821.8" x2="497.67415968780665" y2="823.4" stroke="#333" stroke-width="1"/>
<line x1="501.1629201560967" y1="821.8" x2="501.1629201560967" y2="823.4" stroke="#333" stroke-width="1"/>
<line x1="504.0134450138112" y1="821.8" x2="504.0134450138112" y2="823.4" stroke="#333" stroke-width="1"/>
<line x1="506.4235294405132" y1="821.8" x2="506.4235294405132" y2="823.4" stroke="#333" stroke-width="1"/>
<line x1="508.51123953171" y1="821.8" x2="508.51123953171" y2="823.4" stroke="#333" stroke-width="1"/>
<line x1="510.3527303398157" y1="821.8" x2="510.3527303398157" y2="823.4" stroke="#333" stroke-width="1"/>
<line x1="512.0" y1="821.8" x2="512.0" y2="825.0" stroke="#333" stroke-width="1"/>
<text x="366.5" y="836.0999999999999" font-size="8.6" font-weight="normal" text-anchor="middle" fill="#333" textLength="8.2" lengthAdjust="spacingAndGlyphs" >10</text>
<text x="371.6" y="832.4" font-size="5.5" font-weight="normal" text-anchor="middle" fill="#333" >0</text>
<text x="402.5" y="836.0999999999999" font-size="8.6" font-weight="normal" text-anchor="middle" fill="#333" textLength="8.2" lengthAdjust="spacingAndGlyphs" >10</text>
<text x="407.6" y="832.4" font-size="5.5" font-weight="normal" text-anchor="middle" fill="#333" >1</text>
<text x="438.5" y="836.0999999999999" font-size="8.6" font-weight="normal" text-anchor="middle" fill="#333" textLength="8.2" lengthAdjust="spacingAndGlyphs" >10</text>
<text x="443.6" y="832.4" font-size="5.5" font-weight="normal" text-anchor="middle" fill="#333" >2</text>
<text x="474.5" y="836.0999999999999" font-size="8.6" font-weight="normal" text-anchor="middle" fill="#333" textLength="8.2" lengthAdjust="spacingAndGlyphs" >10</text>
<text x="479.6" y="832.4" font-size="5.5" font-weight="normal" text-anchor="middle" fill="#333" >3</text>
<text x="510.5" y="836.0999999999999" font-size="8.6" font-weight="normal" text-anchor="middle" fill="#333" textLength="8.2" lengthAdjust="spacingAndGlyphs" >10</text>
<text x="515.6" y="832.4" font-size="5.5" font-weight="normal" text-anchor="middle" fill="#333" >4</text>
<text x="439.5" y="844.5999999999999" font-size="7.6" font-weight="normal" text-anchor="middle" fill="#333" textLength="19" lengthAdjust="spacingAndGlyphs" >FL2-H</text>
<text x="68.3" y="705.8" font-size="15.5" font-weight="normal" text-anchor="start" fill="#000" textLength="44.2" lengthAdjust="spacingAndGlyphs" stroke="#000" stroke-width="0.45">Control</text>
<text x="149.6" y="691.3" font-size="15.8" font-weight="normal" text-anchor="start" fill="#000" textLength="21" lengthAdjust="spacingAndGlyphs" stroke="#000" stroke-width="0.4">Fas</text>
</svg></body></html>
